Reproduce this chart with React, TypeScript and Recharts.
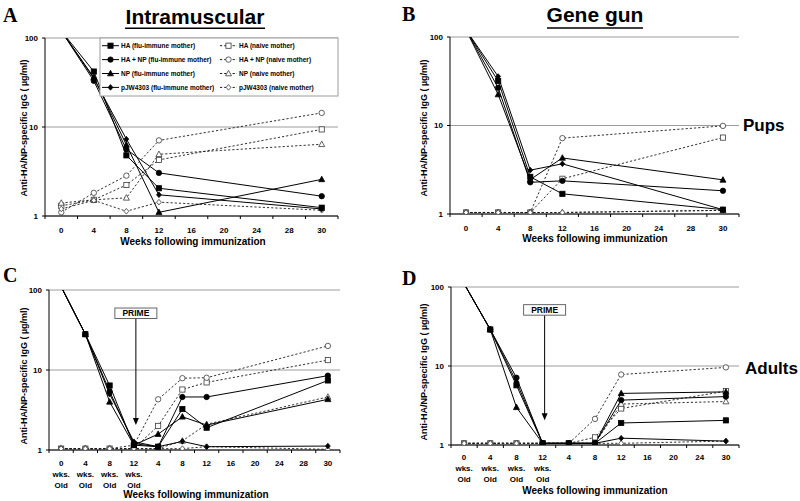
import { LineChart, Line, XAxis, YAxis, CartesianGrid, ReferenceLine } from 'recharts'

// ── Fonts ──────────────────────────────────────────────────────────────────────

const SANS = "'Liberation Sans', Arial, Helvetica, sans-serif"
const SERIF = "'Liberation Serif', 'Times New Roman', Times, serif"

// ── Categories / ticks ─────────────────────────────────────────────────────────

const pupWeeks = ['0', '4', '8', '12', '16', '20', '24', '28', '30']
const adultWeeksIM = ['0 wks. Old', '4 wks. Old', '8 wks. Old', '12 wks. Old', '4', '8', '12', '16', '20', '24', '28', '30']
const adultWeeksGG = ['0 wks. Old', '4 wks. Old', '8 wks. Old', '12 wks. Old', '4', '8', '12', '16', '20', '24', '30']
const yTicks = [1, 10, 100]

const primeAt = '12 wks. Old'
const primeTop = 44
const primeTip = 2.05

// ── A: intramuscular, pups ─────────────────────────────────────────────────────

const imPupHaFlu = [120, 42, 4.8, 2.05, null, null, null, null, 1.24]
const imPupHanpFlu = [120, 33, 5.6, 3.05, null, null, null, null, 1.67]
const imPupNpFlu = [120, 36, 6.3, 1.1, null, null, null, null, 2.58]
const imPupPjwFlu = [120, 35, 7.3, 1.73, null, null, null, null, 1.2]
const imPupHaNaive = [1.3, 1.52, 2.23, 4.27, null, null, null, null, 9.4]
const imPupHanpNaive = [1.1, 1.82, 2.84, 7.07, null, null, null, null, 14.4]
const imPupNpNaive = [1.4, 1.52, 1.6, 4.94, null, null, null, null, 6.4]
const imPupPjwNaive = [1.2, 1.5, 1.13, 1.43, null, null, null, null, 1.16]

// ── B: gene gun, pups ──────────────────────────────────────────────────────────

const ggPupHaFlu = [120, 31.8, 2.63, 1.69, null, null, null, null, 1.12]
const ggPupHanpFlu = [120, 26.7, 2.28, 2.37, null, null, null, null, 1.83]
const ggPupNpFlu = [120, 22.4, 2.45, 4.3, null, null, null, null, 2.43]
const ggPupPjwFlu = [120, 35.8, 3.13, 3.69, null, null, null, null, 1.12]
const ggPupHaNaive = [1.04, 1.04, 1.04, 2.5, null, null, null, null, 7.3]
const ggPupHanpNaive = [1.04, 1.04, 1.04, 7.2, null, null, null, null, 9.9]
const ggPupNpNaive = [1.04, 1.04, 1.04, 1.04, null, null, null, null, 1.1]
const ggPupPjwNaive = [1.04, 1.04, 1.04, 1.04, null, null, null, null, 1.1]

// ── C: intramuscular, adults ───────────────────────────────────────────────────

const imAdHaFlu = [110, 28, 6.4, 1.15, 1.1, 3.25, 1.9, null, null, null, null, 7.4]
const imAdHanpFlu = [110, 28, 5.4, 1.2, 1.1, 4.6, 4.6, null, null, null, null, 8.5]
const imAdNpFlu = [110, 28, 4.0, 1.15, 1.58, 2.6, 2.05, null, null, null, null, 4.3]
const imAdPjwFlu = [110, 28, 5.0, 1.27, 1.1, 1.28, 1.1, null, null, null, null, 1.12]
const imAdHaNaive = [1.04, 1.04, 1.04, 1.04, 2.0, 5.7, 7.0, null, null, null, null, 13.3]
const imAdHanpNaive = [1.04, 1.04, 1.04, 1.15, 4.3, 7.9, 8.0, null, null, null, null, 20]
const imAdNpNaive = [1.04, 1.04, 1.04, 1.04, 1.04, 1.3, 2.1, null, null, null, null, 4.6]
const imAdPjwNaive = [1.04, 1.04, 1.04, 1.04, 1.04, 1.04, 1.1, null, null, null, null, 1.02]

// ── D: gene gun, adults ────────────────────────────────────────────────────────

const ggAdHaFlu = [110, 29, 5.7, 1.05, 1.05, 1.05, 1.9, null, null, null, 2.05]
const ggAdHanpFlu = [110, 29, 7.1, 1.05, 1.05, 1.05, 3.7, null, null, null, 4.1]
const ggAdNpFlu = [110, 29, 3.0, 1.05, 1.05, 1.05, 4.5, null, null, null, 4.7]
const ggAdPjwFlu = [110, 29, 6.3, 1.05, 1.05, 1.05, 1.22, null, null, null, 1.12]
const ggAdHaNaive = [1.05, 1.05, 1.05, 1.05, 1.05, 1.25, 2.9, null, null, null, 4.8]
const ggAdHanpNaive = [1.05, 1.05, 1.05, 1.05, 1.05, 2.14, 7.8, null, null, null, 9.6]
const ggAdNpNaive = [1.05, 1.05, 1.05, 1.05, 1.05, 1.05, 3.3, null, null, null, 3.55]
const ggAdPjwNaive = [1.05, 1.05, 1.05, 1.05, 1.05, 1.05, 1.05, null, null, null, 1.12]

// ── Series ─────────────────────────────────────────────────────────────────────

type Shape = 'square' | 'circle' | 'triangle' | 'diamond'

const seriesMeta: { key: string; name: string; shape: Shape; naive: boolean }[] = [
  { key: 'haFlu', name: 'HA (flu-immune mother)', shape: 'square', naive: false },
  { key: 'hanpFlu', name: 'HA + NP (flu-immune mother)', shape: 'circle', naive: false },
  { key: 'npFlu', name: 'NP (flu-immune mother)', shape: 'triangle', naive: false },
  { key: 'pjwFlu', name: 'pJW4303 (flu-immune mother)', shape: 'diamond', naive: false },
  { key: 'haNaive', name: 'HA (naive mother)', shape: 'square', naive: true },
  { key: 'hanpNaive', name: 'HA + NP (naive mother)', shape: 'circle', naive: true },
  { key: 'npNaive', name: 'NP (naive mother)', shape: 'triangle', naive: true },
  { key: 'pjwNaive', name: 'pJW4303 (naive mother)', shape: 'diamond', naive: true },
]

function buildRows(cats: string[], cols: Record<string, (number | null)[]>) {
  return cats.map((cat, i) => {
    const row: Record<string, string | number | null> = { cat }
    for (const k of Object.keys(cols)) row[k] = cols[k][i]
    return row
  })
}

// ── Markers ────────────────────────────────────────────────────────────────────

function Marker({ cx, cy, shape, open }: { cx: number; cy: number; shape: Shape; open: boolean }) {
  const fill = open ? '#ffffff' : '#000000'
  const stroke = open ? '#3a3a3a' : '#000000'
  const sw = 0.8
  if (shape === 'square')
    return <rect x={cx - 2.6} y={cy - 2.6} width={5.2} height={5.2} fill={fill} stroke={stroke} strokeWidth={sw} />
  if (shape === 'circle') return <circle cx={cx} cy={cy} r={2.7} fill={fill} stroke={stroke} strokeWidth={sw} />
  if (shape === 'triangle')
    return (
      <polygon
        points={`${cx},${cy - 3.2} ${cx + 3},${cy + 2.3} ${cx - 3},${cy + 2.3}`}
        fill={fill}
        stroke={stroke}
        strokeWidth={sw}
      />
    )
  return (
    <polygon
      points={`${cx},${cy - 2.8} ${cx + 2.4},${cy} ${cx},${cy + 2.8} ${cx - 2.4},${cy}`}
      fill={fill}
      stroke={stroke}
      strokeWidth={sw}
    />
  )
}

const makeDot = (shape: Shape, open: boolean) =>
  // eslint-disable-next-line @typescript-eslint/no-explicit-any
  (p: any) => {
    const { cx, cy, index, value } = p
    const v = Array.isArray(value) ? value[1] : value
    if (v == null || cx == null || cy == null || Number.isNaN(cy) || v > 100) return <g key={`e-${index}`} />
    return <Marker key={`m-${index}`} cx={cx} cy={cy} shape={shape} open={open} />
  }

// ── Ticks / annotation ─────────────────────────────────────────────────────────

// eslint-disable-next-line @typescript-eslint/no-explicit-any
function renderXTick(p: any, band: number, last: number, baseDy: number) {
  const { x, y, payload, index } = p
  const parts = String(payload.value).split(' ')
  return (
    <g>
      <line x1={x - band / 2} x2={x - band / 2} y1={y} y2={y + 3} stroke="#000" strokeWidth={1} />
      {index === last && <line x1={x + band / 2} x2={x + band / 2} y1={y} y2={y + 3} stroke="#000" strokeWidth={1} />}
      <text x={x} y={y + baseDy} textAnchor="middle" fontSize={8} fontWeight="bold" fontFamily={SANS} fill="#000">
        {parts.map((t, i) => (
          <tspan key={i} x={x} dy={i === 0 ? 0 : 11}>
            {t}
          </tspan>
        ))}
      </text>
    </g>
  )
}

// eslint-disable-next-line @typescript-eslint/no-explicit-any
function PrimeArrow(props: any) {
  const { x1, y1, y2 } = props
  if (x1 == null || y1 == null || y2 == null) return null
  const x = x1 + 2
  return (
    <g>
      <line x1={x} y1={y1} x2={x} y2={y2 - 6} stroke="#000" strokeWidth={1} />
      <polygon points={`${x - 3},${y2 - 7} ${x + 3},${y2 - 7} ${x},${y2}`} fill="#000" />
      <rect x={x - 21} y={y1 - 10.5} width={42} height={10.5} fill="#fff" stroke="#555" strokeWidth={0.9} />
      <text x={x} y={y1 - 2.4} textAnchor="middle" fontSize={8.5} fontWeight="bold" fontFamily={SANS} fill="#000">
        PRIME
      </text>
    </g>
  )
}

// ── Panels ─────────────────────────────────────────────────────────────────────

interface PanelCfg {
  id: string
  cats: string[]
  rows: Record<string, string | number | null>[]
  box: { left: number; top: number; width: number; height: number }
  plot: { left: number; top: number; right: number; bottom: number }
  axisH: number
  tickDy: number
  prime: boolean
}

const panels: PanelCfg[] = [
  {
    id: 'A',
    cats: pupWeeks,
    rows: buildRows(pupWeeks, {
      haFlu: imPupHaFlu, hanpFlu: imPupHanpFlu, npFlu: imPupNpFlu, pjwFlu: imPupPjwFlu,
      haNaive: imPupHaNaive, hanpNaive: imPupHanpNaive, npNaive: imPupNpNaive, pjwNaive: imPupPjwNaive,
    }),
    box: { left: 0, top: 0, width: 400, height: 250 },
    plot: { left: 45, top: 38, right: 338, bottom: 216 },
    axisH: 30,
    tickDy: 17,
    prime: false,
  },
  {
    id: 'B',
    cats: pupWeeks,
    rows: buildRows(pupWeeks, {
      haFlu: ggPupHaFlu, hanpFlu: ggPupHanpFlu, npFlu: ggPupNpFlu, pjwFlu: ggPupPjwFlu,
      haNaive: ggPupHaNaive, hanpNaive: ggPupHanpNaive, npNaive: ggPupNpNaive, pjwNaive: ggPupPjwNaive,
    }),
    box: { left: 400, top: 0, width: 400, height: 250 },
    plot: { left: 450, top: 37, right: 739, bottom: 214 },
    axisH: 30,
    tickDy: 17,
    prime: false,
  },
  {
    id: 'C',
    cats: adultWeeksIM,
    rows: buildRows(adultWeeksIM, {
      haFlu: imAdHaFlu, hanpFlu: imAdHanpFlu, npFlu: imAdNpFlu, pjwFlu: imAdPjwFlu,
      haNaive: imAdHaNaive, hanpNaive: imAdHanpNaive, npNaive: imAdNpNaive, pjwNaive: imAdPjwNaive,
    }),
    box: { left: 0, top: 250, width: 400, height: 251 },
    plot: { left: 49, top: 290, right: 340, bottom: 450 },
    axisH: 45,
    tickDy: 16,
    prime: true,
  },
  {
    id: 'D',
    cats: adultWeeksGG,
    rows: buildRows(adultWeeksGG, {
      haFlu: ggAdHaFlu, hanpFlu: ggAdHanpFlu, npFlu: ggAdNpFlu, pjwFlu: ggAdPjwFlu,
      haNaive: ggAdHaNaive, hanpNaive: ggAdHanpNaive, npNaive: ggAdNpNaive, pjwNaive: ggAdPjwNaive,
    }),
    box: { left: 400, top: 250, width: 400, height: 251 },
    plot: { left: 451, top: 287, right: 739, bottom: 445 },
    axisH: 45,
    tickDy: 15,
    prime: true,
  },
]

const drawOrder = [...seriesMeta.filter((s) => s.naive), ...seriesMeta.filter((s) => !s.naive)]

function Panel({ p }: { p: PanelCfg }) {
  const { box, plot } = p
  const band = (plot.right - plot.left) / p.cats.length
  const margin = {
    top: plot.top - box.top,
    right: box.left + box.width - plot.right,
    bottom: box.top + box.height - plot.bottom - p.axisH,
    left: 0,
  }
  const last = p.cats.length - 1
  return (
    <div style={{ position: 'absolute', left: box.left, top: box.top }}>
      <LineChart width={box.width} height={box.height} data={p.rows} margin={margin}>
        <CartesianGrid horizontal vertical={false} stroke="#9c9c9c" strokeWidth={1} />
        <XAxis
          dataKey="cat"
          type="category"
          scale="point"
          padding={{ left: band / 2, right: band / 2 }}
          interval={0}
          height={p.axisH}
          axisLine={{ stroke: '#000', strokeWidth: 1 }}
          tickLine={false}
          tickSize={0}
          tickMargin={0}
          tick={(tp: unknown) => renderXTick(tp, band, last, p.tickDy)}
        />
        <YAxis
          type="number"
          scale="log"
          domain={[1, 100]}
          allowDataOverflow
          ticks={yTicks}
          width={plot.left - box.left}
          axisLine={{ stroke: '#000', strokeWidth: 1 }}
          tickLine={{ stroke: '#000' }}
          tickSize={3}
          tickMargin={4}
          tick={{ fill: '#000', fontSize: 8, fontWeight: 'bold', fontFamily: SANS }}
        />
        <YAxis
          yAxisId="frame"
          orientation="right"
          width={0}
          domain={[0, 1]}
          tick={false}
          tickLine={false}
          axisLine={{ stroke: '#9c9c9c' }}
        />
        {drawOrder.map((s) => (
          <Line
            key={s.key}
            dataKey={s.key}
            type="linear"
            stroke={s.naive ? '#1a1a1a' : '#000'}
            strokeWidth={s.naive ? 0.9 : 1}
            strokeDasharray={s.naive ? '2.2 2' : undefined}
            connectNulls
            dot={makeDot(s.shape, s.naive)}
            activeDot={false}
            isAnimationActive={false}
          />
        ))}
        {p.prime && (
          <ReferenceLine
            segment={[
              { x: primeAt, y: primeTop },
              { x: primeAt, y: primeTip },
            ]}
            shape={PrimeArrow}
          />
        )}
      </LineChart>
    </div>
  )
}

// ── Overlay text ───────────────────────────────────────────────────────────────

const yLabel = 'Anti-HA/NP-specific IgG ( µg/ml)'
const xLabel = 'Weeks following immunization'

function Overlay() {
  const yLabels = [
    { x: 24, y: 128 },
    { x: 424, y: 128 },
    { x: 24, y: 376 },
    { x: 424, y: 372 },
  ]
  const xLabels = [
    { x: 193, y: 244.5 },
    { x: 595, y: 242 },
    { x: 196, y: 497.5 },
    { x: 595, y: 494 },
  ]
  const letters = [
    { t: 'A', x: 3, y: 21.7 },
    { t: 'B', x: 402, y: 20.7 },
    { t: 'C', x: 3, y: 281.7 },
    { t: 'D', x: 402, y: 285 },
  ]
  return (
    <svg width={800} height={501} style={{ position: 'absolute', left: 0, top: 0, pointerEvents: 'none' }}>
      {letters.map((l) => (
        <text key={l.t} x={l.x} y={l.y} fontFamily={SERIF} fontWeight="bold" fontSize={20} fill="#000">
          {l.t}
        </text>
      ))}
      <text x={195} y={24} textAnchor="middle" fontFamily={SANS} fontWeight="bold" fontSize={21} fill="#000">
        Intramuscular
      </text>
      <line x1={125} x2={265} y1={28.3} y2={28.3} stroke="#000" strokeWidth={1.6} />
      <text x={595} y={22} textAnchor="middle" fontFamily={SANS} fontWeight="bold" fontSize={21} fill="#000">
        Gene gun
      </text>
      <line x1={547} x2={643} y1={28} y2={28} stroke="#000" strokeWidth={1.6} />
      <text x={743} y={130.5} fontFamily={SANS} fontWeight="bold" fontSize={17} fill="#000">
        Pups
      </text>
      <text x={745} y={374} fontFamily={SANS} fontWeight="bold" fontSize={17} fill="#000">
        Adults
      </text>
      {yLabels.map((l, i) => (
        <text
          key={`yl${i}`}
          x={l.x}
          y={l.y}
          transform={`rotate(-90 ${l.x} ${l.y})`}
          textAnchor="middle"
          dy="0.35em"
          fontFamily={SANS}
          fontWeight="bold"
          fontSize={9}
          fill="#000"
        >
          {yLabel}
        </text>
      ))}
      {xLabels.map((l, i) => (
        <text key={`xl${i}`} x={l.x} y={l.y} textAnchor="middle" fontFamily={SANS} fontWeight="bold" fontSize={10} fill="#000">
          {xLabel}
        </text>
      ))}
      {/* legend of panel A */}
      <rect x={100} y={38} width={238} height={58} fill="#fff" stroke="#9c9c9c" strokeWidth={1} />
      {seriesMeta.map((s, i) => {
        const row = i % 4
        const cy = 45.7 + row * 13.9
        const lx = s.naive ? 220 : 102
        const tx = s.naive ? 239 : 121
        return (
          <g key={s.key}>
            <line
              x1={lx}
              x2={lx + 17}
              y1={cy}
              y2={cy}
              stroke="#000"
              strokeWidth={s.naive ? 0.9 : 1}
              strokeDasharray={s.naive ? '2.2 2' : undefined}
            />
            <Marker cx={lx + 8.5} cy={cy} shape={s.shape} open={s.naive} />
            <text x={tx} y={cy + 2.3} fontFamily={SANS} fontWeight="bold" fontSize={6.5} fill="#000">
              {s.name}
            </text>
          </g>
        )
      })}
    </svg>
  )
}

export default function App() {
  return (
    <div style={{ position: 'absolute', left: 0, top: 0, width: 800, height: 501, background: '#fff' }}>
      {panels.map((p) => (
        <Panel key={p.id} p={p} />
      ))}
      <Overlay />
    </div>
  )
}
